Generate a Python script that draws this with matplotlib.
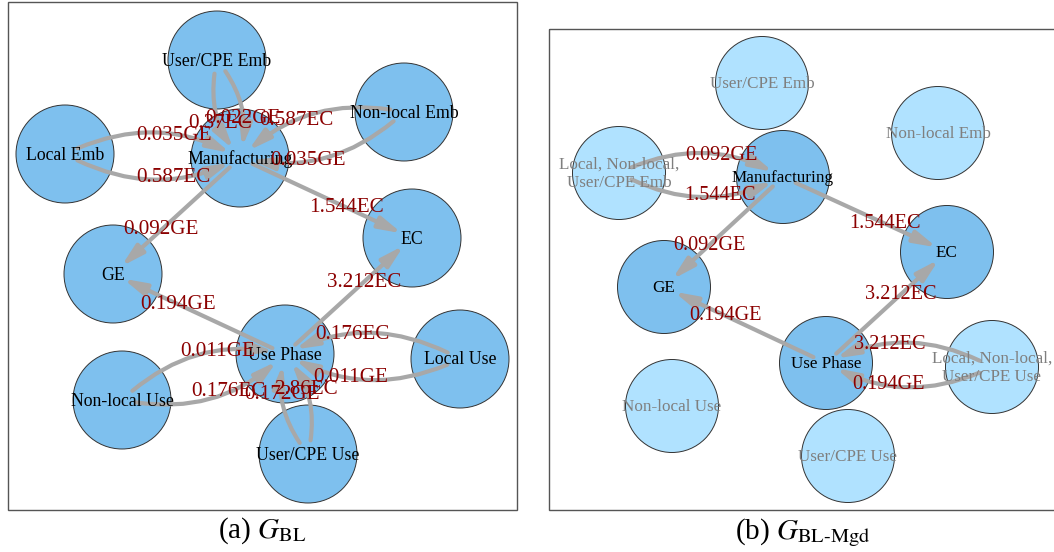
import numpy as np
from matplotlib import pyplot as plt
from matplotlib.patches import Circle, FancyArrowPatch, Rectangle, ArrowStyle

plt.rcParams['font.family'] = ['Liberation Serif', 'DejaVu Serif']
plt.rcParams['mathtext.fontset'] = 'stix'

# ---- (a) G_BL ----
nodes_a = ["User/CPE Emb", "Non-local Emb", "Local Emb", "Manufacturing", "EC",
           "GE", "Use Phase", "Local Use", "Non-local Use", "User/CPE Use"]
edges_a = [
    ("Local Emb", "Manufacturing", "0.035GE"),
    ("Local Emb", "Manufacturing", "0.587EC"),
    ("Non-local Emb", "Manufacturing", "0.587EC"),
    ("Non-local Emb", "Manufacturing", "0.035GE"),
    ("User/CPE Emb", "Manufacturing", "0.022GE"),
    ("User/CPE Emb", "Manufacturing", "0.37EC"),
    ("Manufacturing", "EC", "1.544EC"),
    ("Manufacturing", "GE", "0.092GE"),
    ("Use Phase", "EC", "3.212EC"),
    ("Use Phase", "GE", "0.194GE"),
    ("Local Use", "Use Phase", "0.176EC"),
    ("Local Use", "Use Phase", "0.011GE"),
    ("Non-local Use", "Use Phase", "0.011GE"),
    ("Non-local Use", "Use Phase", "0.176EC"),
    ("User/CPE Use", "Use Phase", "2.86EC"),
    ("User/CPE Use", "Use Phase", "0.172GE"),
]
faded_a = []

# ---- (b) G_BL-Mgd ----
emb_mgd = "Local, Non-local,\nUser/CPE Emb"
use_mgd = "Local, Non-local,\nUser/CPE Use"
nodes_b = ["User/CPE Emb", "Non-local Emb", emb_mgd, "Manufacturing", "EC",
           "GE", "Use Phase", use_mgd, "Non-local Use", "User/CPE Use"]
edges_b = [
    (emb_mgd, "Manufacturing", "0.092GE"),
    (emb_mgd, "Manufacturing", "1.544EC"),
    ("Manufacturing", "EC", "1.544EC"),
    ("Manufacturing", "GE", "0.092GE"),
    ("Use Phase", "EC", "3.212EC"),
    ("Use Phase", "GE", "0.194GE"),
    (use_mgd, "Use Phase", "3.212EC"),
    (use_mgd, "Use Phase", "0.194GE"),
]
faded_b = ["User/CPE Emb", "Non-local Emb", emb_mgd, use_mgd,
           "Non-local Use", "User/CPE Use"]

# layout (pixel coords of the figure) and edge curvature
layout_a = {
    "User/CPE Emb": (217, 60), "Non-local Emb": (404, 112), "Local Emb": (65, 154),
    "Manufacturing": (240, 158), "EC": (412, 238), "GE": (113, 274),
    "Use Phase": (285, 354), "Local Use": (460, 359), "Non-local Use": (122, 400),
    "User/CPE Use": (308, 454),
}
curve_a = [-0.26, 0.26, 0.26, -0.26, -0.25, 0.25, 0, 0, 0, 0,
           0.26, -0.26, -0.26, 0.26, 0.25, -0.25]
layout_b = {
    "User/CPE Emb": (762, 83), "Non-local Emb": (938, 133), emb_mgd: (619, 173),
    "Manufacturing": (783, 177), "EC": (947, 252), "GE": (664, 287),
    "Use Phase": (826, 363), use_mgd: (992, 367), "Non-local Use": (672, 406),
    "User/CPE Use": (848, 456),
}
curve_b = [-0.26, 0.26, 0, 0, 0, 0, 0.26, -0.26]

NODE_COL = "#7EC0EE"
FADED_COL = "#B0E2FF"
EDGE_COL = "#A8A8A8"
LABEL_COL = "#8B0000"


def draw_graph(ax, nodes, edges, layout, curve, faded, r, node_fs, edge_fs):
    for n in nodes:
        x, y = layout[n]
        col = FADED_COL if n in faded else NODE_COL
        ax.add_patch(Circle((x, y), r, facecolor=col, edgecolor="#333333",
                            lw=0.7, zorder=1))
        ax.text(x, y + 1, n, ha="center", va="center", fontsize=node_fs,
                color="#7F7F7F" if n in faded else "black", zorder=3,
                linespacing=1.15)

    style = ArrowStyle("-|>", head_length=0.75, head_width=0.2)
    for (src, dst, lab), f in zip(edges, curve):
        p0 = np.array(layout[src], dtype=float)
        p2 = np.array(layout[dst], dtype=float)
        d = p2 - p0
        ctrl = (p0 + p2) / 2 + f * np.array([-d[1], d[0]])
        arr = FancyArrowPatch(tuple(p0), tuple(p2), connectionstyle=f"arc3,rad={f}",
                              arrowstyle=style, mutation_scale=18, color=EDGE_COL,
                              lw=3.0, shrinkA=10, shrinkB=8, zorder=2)
        ax.add_patch(arr)
        t = 0.62
        pos = (1 - t) ** 2 * p0 + 2 * t * (1 - t) * ctrl + t ** 2 * p2
        ax.text(pos[0], pos[1], lab, ha="center", va="center", fontsize=edge_fs,
                color=LABEL_COL, zorder=4)


fig = plt.figure(figsize=(10.54, 5.52), dpi=100)
ax = fig.add_axes([0, 0, 1, 1])
ax.set_xlim(0, 1054)
ax.set_ylim(552, 0)
ax.axis("off")

ax.add_patch(Rectangle((7.5, 1.5), 509, 508.5, fill=False, edgecolor="#555555", lw=1.0))
ax.add_patch(Rectangle((549, 28.5), 520, 481.5, fill=False, edgecolor="#555555", lw=1.0))

draw_graph(ax, nodes_a, edges_a, layout_a, curve_a, faded_a, 49, 12.8, 15.2)
draw_graph(ax, nodes_b, edges_b, layout_b, curve_b, faded_b, 46.5, 12.3, 14.6)

ax.text(262, 531, r"(a) $G_{\mathrm{BL}}$", ha="center", va="center", fontsize=21)
ax.text(803, 533, r"(b) $G_{\mathrm{BL\text{-}Mgd}}$", ha="center", va="center", fontsize=21)

fig.savefig("out.png", dpi=100)
